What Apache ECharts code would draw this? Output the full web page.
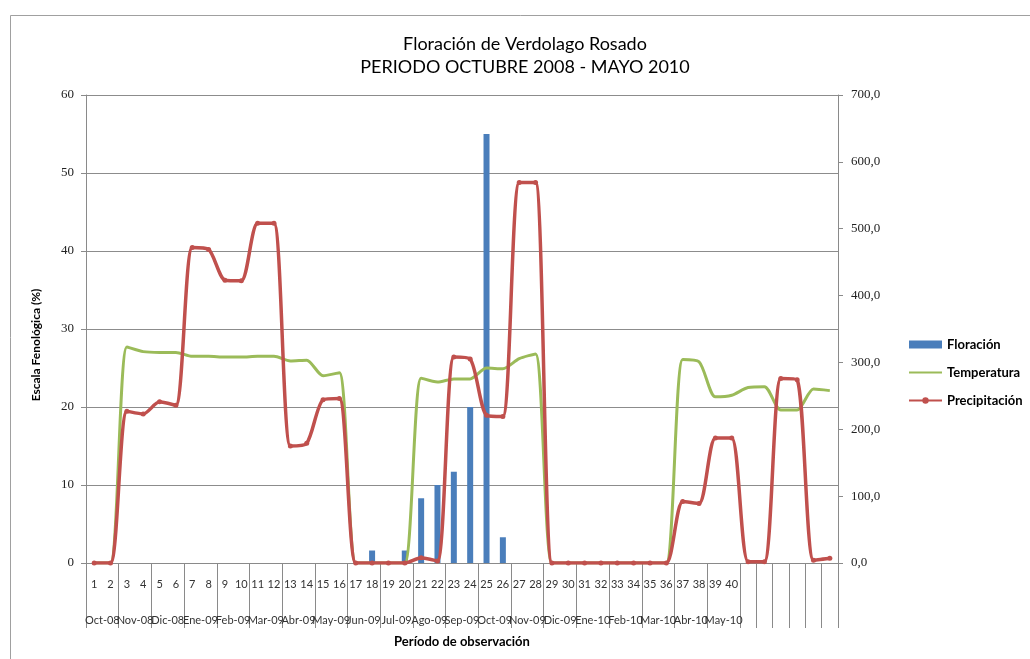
<!DOCTYPE html>
<html>
<head>
<meta charset="utf-8">
<script src="https://cdn.jsdelivr.net/npm/echarts@6/dist/echarts.min.js"></script>
<style>
html,body{margin:0;padding:0;background:#fff;}
#chart{width:1030px;height:659px;}
</style>
</head>
<body>
<div id="chart"></div>
<script>
// ---- Data ----
const periods = ['1','2','3','4','5','6','7','8','9','10','11','12','13','14','15','16','17','18','19','20',
  '21','22','23','24','25','26','27','28','29','30','31','32','33','34','35','36','37','38','39','40',
  '','','','','',''];
const months = ['Oct-08','Nov-08','Dic-08','Ene-09','Feb-09','Mar-09','Abr-09','May-09','Jun-09','Jul-09',
  'Ago-09','Sep-09','Oct-09','Nov-09','Dic-09','Ene-10','Feb-10','Mar-10','Abr-10','May-10'];
const floracion = [0,0,0,0,0,0,0,0,0,0,0,0,0,0,0,0,0,1.6,0,1.6,
  8.3,10,11.7,20,55,3.3,0,0,0,0,0,0,0,0,0,0,0,0,0,0,
  0,0,0,0,0,0];
const temperatura = [0,0,27.7,27.1,27.0,27.0,26.5,26.5,26.4,26.4,26.5,26.5,25.9,26.0,24.0,24.4,0,0,0,0,
  23.7,23.2,23.6,23.6,25.0,24.9,26.2,26.8,0,0,0,0,0,0,0,0,26.1,25.8,21.3,21.5,
  22.5,22.6,19.6,19.6,22.3,22.1];
const precipitacion = [0,0,227,223,241,236,472,469,423,422,508,508,175,179,244,246,0,0,0,0,
  8,3,308,305,221,219,569,569,0,0,0,0,0,0,0,0,92,89,187,187,
  2,2,276,274,4,7];
const leftTicks = [0,10,20,30,40,50,60];
const rightTicks = [0,100,200,300,400,500,600,700];

// month axis: boundary points (47), month labels at odd boundaries
const nCat = periods.length;
const monthAxisData = [];
for (let i = 0; i <= nCat; i++) monthAxisData.push('');
months.forEach((m, k) => { monthAxisData[2 * k + 1] = m; });

const font = 'Lato, "Open Sans", sans-serif';
const chart = echarts.init(document.getElementById('chart'), null, {renderer: 'canvas'});
chart.setOption({
  animation: false,
  backgroundColor: '#fff',
  title: {
    text: 'Floración de Verdolago Rosado\nPERIODO OCTUBRE 2008 - MAYO 2010',
    left: 520, top: 28, textAlign: 'center',
    textStyle: {fontFamily: font, fontSize: 18, fontWeight: 'normal', color: '#000', lineHeight: 23}
  },
  graphic: [{
    type: 'rect', left: 8, top: 13, silent: true,
    shape: {width: 1040, height: 644},
    style: {fill: 'none', stroke: '#a0a0a0', lineWidth: 1}
  }],
  legend: {
    orient: 'vertical', left: 908, top: 338, itemGap: 15, padding: 0,
    itemWidth: 33, itemHeight: 8,
    textStyle: {fontFamily: font, fontSize: 13, fontWeight: 'bold', color: '#000'},
    data: [{name: 'Floración', icon: 'rect'},
           {name: 'Temperatura', itemStyle: {opacity: 0}},
           'Precipitación']
  },
  grid: {left: 86, right: 192, top: 95, bottom: 96, containLabel: false},
  xAxis: [{
    type: 'category', data: periods, position: 'bottom',
    axisLine: {show: true, lineStyle: {color: '#8a8a8a'}},
    axisTick: {show: false},
    axisLabel: {interval: 0, margin: 16, fontFamily: font, fontSize: 11, color: '#333'},
    name: 'Período de observación', nameLocation: 'middle', nameGap: 72,
    nameTextStyle: {fontFamily: font, fontSize: 13, fontWeight: 'bold', color: '#000'}
  }, {
    type: 'category', data: monthAxisData, boundaryGap: false, position: 'bottom',
    axisLine: {show: false},
    axisTick: {show: true, length: 65, lineStyle: {color: '#8a8a8a'},
      interval: function (index) { return (index <= 40 && index % 2 === 0) || index > 40; }},
    axisLabel: {interval: 0, margin: 52, fontFamily: font, fontSize: 11, color: '#333'}
  }],
  yAxis: [{
    type: 'value', min: 0, max: 60, interval: 10, position: 'left',
    axisLine: {show: true, lineStyle: {color: '#8a8a8a'}},
    axisTick: {show: true, length: 5, lineStyle: {color: '#8a8a8a'}},
    axisLabel: {margin: 12, fontFamily: '"Liberation Serif", serif', fontSize: 13, color: '#222'},
    splitLine: {show: true, lineStyle: {color: '#8c8c8c'}},
    name: 'Escala Fenológica (%)', nameLocation: 'middle', nameGap: 44, nameRotate: 90,
    nameTextStyle: {fontFamily: font, fontSize: 12, fontWeight: 'bold', color: '#000', padding: [0, 0, 0, -32]}
  }, {
    type: 'value', min: 0, max: 700, interval: 100, position: 'right',
    axisLine: {show: true, lineStyle: {color: '#8a8a8a'}},
    axisTick: {show: true, length: 5, lineStyle: {color: '#8a8a8a'}},
    axisLabel: {margin: 13, fontFamily: '"Liberation Serif", serif', fontSize: 13, color: '#222',
      formatter: v => v.toFixed(1).replace('.', ',')},
    splitLine: {show: false}
  }],
  series: [{
    name: 'Floración', type: 'bar', xAxisIndex: 0, yAxisIndex: 0,
    data: floracion, barWidth: 6, itemStyle: {color: '#4A7EBB'}
  }, {
    name: 'Temperatura', type: 'line', xAxisIndex: 0, yAxisIndex: 0,
    data: temperatura, smooth: 0.25, smoothConstraint: false, symbol: 'none',
    lineStyle: {color: '#9BBB59', width: 3}, itemStyle: {color: '#9BBB59'}
  }, {
    name: 'Precipitación', type: 'line', xAxisIndex: 0, yAxisIndex: 1,
    data: precipitacion, smooth: 0.25, smoothConstraint: false, symbol: 'circle', symbolSize: 5,
    lineStyle: {color: '#C0504D', width: 3.5}, itemStyle: {color: '#C0504D'}
  }]
});
</script>
</body>
</html>
